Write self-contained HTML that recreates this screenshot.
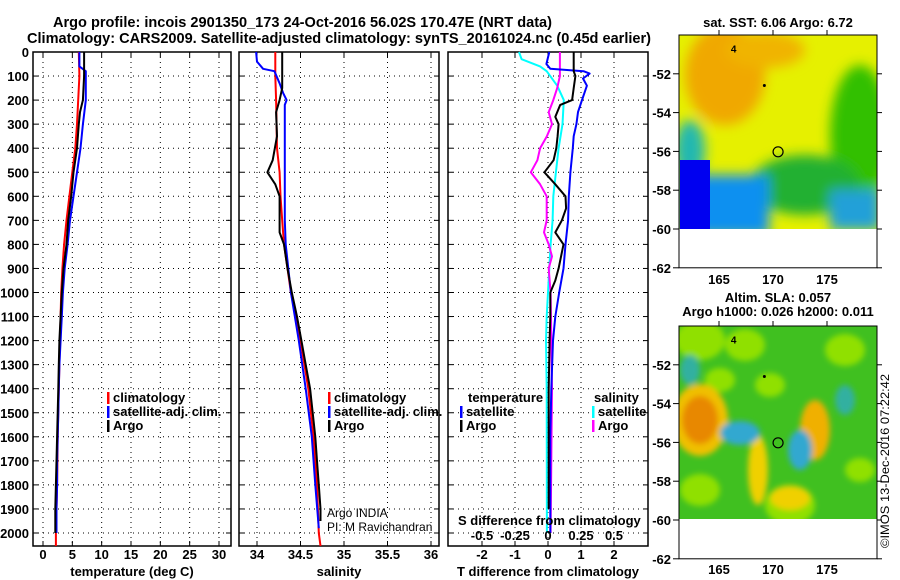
<!DOCTYPE html>
<html><head><meta charset="utf-8"><style>
html,body{margin:0;padding:0;background:#fff;}
svg{display:block;font-family:"Liberation Sans",sans-serif;}
.t{font-weight:bold;font-size:13px;fill:#000;}
</style></head><body>
<svg id="c" width="900" height="580" viewBox="0 0 900 580" xmlns="http://www.w3.org/2000/svg">
<defs>
<filter id="bl" x="-50%" y="-50%" width="200%" height="200%"><feGaussianBlur stdDeviation="6"/></filter>
<filter id="bl2" x="-50%" y="-50%" width="200%" height="200%"><feGaussianBlur stdDeviation="3"/></filter>
<clipPath id="cm1"><rect x="679" y="35" width="198" height="194"/></clipPath>
<clipPath id="cm2"><rect x="679" y="326" width="198" height="193"/></clipPath>
</defs>
<text x="53" y="27" textLength="499" lengthAdjust="spacingAndGlyphs" style="font-size:15px;font-weight:bold">Argo profile: incois 2901350_173 24-Oct-2016 56.02S 170.47E (NRT data)</text>
<text x="27" y="43" textLength="624" lengthAdjust="spacingAndGlyphs" style="font-size:15px;font-weight:bold">Climatology: CARS2009. Satellite-adjusted climatology: synTS_20161024.nc (0.45d earlier)</text>
<g id="plots"></g>
<g id="maps"></g>
<text transform="translate(889,548) rotate(-90)" textLength="174" lengthAdjust="spacingAndGlyphs" style="font-size:12px">©IMOS 13-Dec-2016 07:22:42</text>
</svg>
<script>
// ---------- data ----------
const depthTicks = [0,100,200,300,400,500,600,700,800,900,1000,1100,1200,1300,1400,1500,1600,1700,1800,1900,2000];
const tempTicks = [0,5,10,15,20,25,30];
const salTicks = [34,34.5,35,35.5,36];
const tdiffTicks = [-2,-1,0,1,2];
const sdiffTickLabels = ["-0.5","-0.25","0","0.25","0.5"];
const sdiffTicks = [-0.5,-0.25,0,0.25,0.5];

const tArgoDepth = [0,100,200,250,300,400,500,600,700,800,900,1000,1100,1200,1300,1400,1500,1600,1700,1800,1900,2000];
const tArgo      = [7.0,7.0,6.8,6.3,6.1,5.8,5.2,4.8,4.3,4.0,3.5,3.2,3.0,2.8,2.7,2.6,2.5,2.4,2.3,2.2,2.1,2.1];
const tClimDepth = [0,100,200,300,400,500,600,700,800,900,1000,1200,1400,1600,1800,2000,2054];
const tClim      = [6.1,6.2,6.0,5.8,5.5,5.0,4.5,4.0,3.6,3.3,3.1,2.9,2.7,2.5,2.4,2.2,2.2];
const tSatDepth  = [0,60,80,200,300,400,500,600,700,800,900,1000,1100,1200,1300,1400,1500,1600,1700,1800,1900,2000];
const tSat       = [6.2,6.2,7.3,7.3,6.8,6.4,5.8,5.2,4.6,4.2,3.7,3.4,3.2,3.0,2.8,2.7,2.6,2.5,2.4,2.4,2.3,2.3];

const sArgoDepth = [0,150,200,250,350,450,500,550,600,750,800,900,1000,1100,1200,1300,1400,1500,1600,1700,1800,1900,1950];
const sArgo      = [34.29,34.29,34.26,34.22,34.23,34.18,34.12,34.21,34.26,34.26,34.31,34.35,34.40,34.46,34.51,34.56,34.61,34.64,34.67,34.69,34.71,34.73,34.73];
const sClimDepth = [0,100,200,400,500,600,700,800,900,1000,1200,1400,1600,1800,2000,2054];
const sClim      = [34.21,34.21,34.22,34.23,34.26,34.27,34.29,34.31,34.35,34.39,34.50,34.59,34.65,34.69,34.71,34.73];
const sSatDepth  = [0,40,70,80,130,170,200,220,700,800,900,1000,1200,1400,1600,1800,1980];
const sSat       = [33.99,34.0,34.07,34.20,34.26,34.30,34.34,34.32,34.32,34.33,34.36,34.39,34.48,34.56,34.63,34.67,34.71];

const dTSatDepth = [0,50,70,80,90,110,140,200,250,300,350,400,500,600,700,800,900,1000,1100,1200,1400,1600,2000];
const dTSat      = [0.04,-0.05,0.07,1.08,1.26,1.06,1.18,1.03,0.91,0.86,0.78,0.75,0.68,0.63,0.61,0.53,0.47,0.34,0.22,0.15,0.10,0.07,0.07];
const dTArgoDepth= [0,80,100,150,200,220,270,300,350,400,450,500,550,600,650,700,750,800,900,950,1000,1100,1200,1400,1600,1900];
const dTArgo     = [0.78,0.78,0.83,0.78,0.73,0.37,0.22,0.32,0.29,0.25,0.17,-0.11,0.22,0.53,0.55,0.42,0.22,0.47,0.32,0.22,0.07,0.07,0.05,0.02,0.02,0.02];
const dSSatDepth = [0,30,60,80,140,200,300,400,500,600,700,800,900,1000,1100,1200,1400,2000];
const dSSat      = [-0.22,-0.20,-0.06,-0.01,0.07,0.12,0.11,0.08,0.06,0.04,0.035,0.02,0.01,0.0,-0.01,-0.015,-0.01,-0.008];
const dSArgoDepth= [0,100,150,200,250,300,350,400,450,500,550,600,700,750,800,850,900,1000,1400,2000];
const dSArgo     = [0.09,0.09,0.07,0.04,0.005,0.03,-0.008,-0.06,-0.08,-0.13,-0.06,-0.01,-0.01,-0.03,0.005,0.03,0.005,0.02,0.03,0.02];

// ---------- helpers ----------
const NS="http://www.w3.org/2000/svg";
const plots=document.getElementById('plots');
function mk(tag,attrs,parent){const e=document.createElementNS(NS,tag);for(const k in attrs)e.setAttribute(k,attrs[k]);(parent||plots).appendChild(e);return e;}
const Y0=52, YB=546;
const yD = d => Y0 + d*(533-52)/2000;
const xT = v => 43 + v*(219-43)/30;
const xS = v => 257 + (v-34)*(431-257)/2;
const xDT = v => 548 + v*33;
const xDS = v => 548 + v*132;

function panel(x0,x1,name,xticks,xfn,labels,labelY,xlabel,showY){
  const g=mk('g',{});
  
  
  depthTicks.forEach(d=>{
    const l=mk('line',{x1:x0,x2:x1,y1:yD(d),y2:yD(d),stroke:'#000','stroke-width':1,'stroke-dasharray':'1,4'},g);
    
    
    mk('line',{x1:x0,x2:x0+5,y1:yD(d),y2:yD(d),stroke:'#000'},g);
    mk('line',{x1:x1-5,x2:x1,y1:yD(d),y2:yD(d),stroke:'#000'},g);
    if(showY){
      const t=mk('text',{x:29,y:yD(d)+5,'text-anchor':'end',class:'t'},g);
      t.textContent=d;
      
      
    }
  });
  xticks.forEach((v,i)=>{
    const x=xfn(v);
    const l=mk('line',{x1:x,x2:x,y1:Y0,y2:YB,stroke:'#000','stroke-width':1,'stroke-dasharray':'1,4'},g);
    
    
    mk('line',{x1:x,x2:x,y1:Y0,y2:Y0+5,stroke:'#000'},g);
    mk('line',{x1:x,x2:x,y1:YB-5,y2:YB,stroke:'#000'},g);
    const t=mk('text',{x:x,y:labelY,'text-anchor':'middle',class:'t'},g);
    t.textContent=labels[i];
    
    
  });
  const r=mk('rect',{x:x0,y:Y0,width:x1-x0,height:YB-Y0,fill:'none',stroke:'#000','stroke-width':1.5},g);
  
  
  const xl=mk('text',{x:(x0+x1)/2,y:576,'text-anchor':'middle',class:'t'},g);
  xl.textContent=xlabel;
  
  
}
function series(depths,vals,xfn,color,name){
  const pts=depths.map((d,i)=>xfn(vals[i]).toFixed(1)+','+yD(d).toFixed(1)).join(' ');
  const p=mk('polyline',{points:pts,fill:'none',stroke:color,'stroke-width':2,'stroke-linejoin':'round'});
  
  
}
function legend(x,y,color,label,name){
  const g=mk('g',{});
  
  
  mk('rect',{x:x,y:y-10,width:2.5,height:12,fill:color},g);
  const t=mk('text',{x:x+6,y:y,class:'t'},g);
  t.textContent=label;
}
function txt(x,y,s,name,extra){
  const t=mk('text',Object.assign({x:x,y:y,class:'t'},extra||{}));
  t.textContent=s;
  
  
  return t;
}

panel(33,231,'temperature-panel',tempTicks,xT,tempTicks.map(String),559,'temperature (deg C)',true);
series(tClimDepth,tClim,xT,'#f00','temp-climatology-line');
series(tSatDepth,tSat,xT,'#00f','temp-satellite-line');
series(tArgoDepth,tArgo,xT,'#000','temp-argo-line');
legend(107,402,'#f00','climatology','legend-climatology');
legend(107,416,'#00f','satellite-adj. clim.','legend-satellite');
legend(107,430,'#000','Argo','legend-argo');

panel(239,439,'salinity-panel',salTicks,xS,['34','34.5','35','35.5','36'],559,'salinity',false);
series(sClimDepth,sClim,xS,'#f00','sal-climatology-line');
series(sSatDepth,sSat,xS,'#00f','sal-satellite-line');
series(sArgoDepth,sArgo,xS,'#000','sal-argo-line');
legend(328,402,'#f00','climatology','legend-climatology-sal');
legend(328,416,'#00f','satellite-adj. clim.','legend-satellite-sal');
legend(328,430,'#000','Argo','legend-argo-sal');
txt(327,517,'Argo INDIA','credit-line-1',{style:'font-weight:normal;font-size:12px'});
txt(327,531,'PI: M Ravichandran','credit-line-2',{style:'font-weight:normal;font-size:12px'});

panel(448,648,'difference-panel',tdiffTicks,xDT,tdiffTicks.map(String),559,'T difference from climatology',false);
series(dSSatDepth,dSSat,xDS,'#0ff','sal-diff-satellite-line');
series(dSArgoDepth,dSArgo,xDS,'#f0f','sal-diff-argo-line');
series(dTSatDepth,dTSat,xDT,'#00f','temp-diff-satellite-line');
series(dTArgoDepth,dTArgo,xDT,'#000','temp-diff-argo-line');
txt(468,402,'temperature','legend-temperature-heading');
legend(460,416,'#00f','satellite','legend-t-satellite');
legend(460,430,'#000','Argo','legend-t-argo');
txt(594,402,'salinity','legend-salinity-heading');
legend(592,416,'#0ff','satellite','legend-s-satellite');
legend(592,430,'#f0f','Argo','legend-s-argo');
txt(458,525,'S difference from climatology','s-diff-axis-title');
sdiffTicks.forEach((v,i)=>{
  txt(xDS(v),540,sdiffTickLabels[i],'s-diff-tick-label',{'text-anchor':'middle'});
});

// ---------- maps ----------
const maps=document.getElementById('maps');
function m(tag,attrs,parent){const e=document.createElementNS(NS,tag);for(const k in attrs)e.setAttribute(k,attrs[k]);(parent||maps).appendChild(e);return e;}
const latTicks=[-52,-54,-56,-58,-60,-62];
const lonTicks=[165,170,175];
const xLon = lon => 719 + (lon-165)*10.8;
function mapFrame(top,name,ticksY,colorFn){
  const g=m('g',{});
  
  
  const yLat = lat => top + (-50-lat)*19.4;
  colorFn(g,yLat);
  m('rect',{x:679,y:top,width:198,height:yLat(-62)-top,fill:'none',stroke:'#000','stroke-width':1},g);
  latTicks.forEach(l=>{
    const y=yLat(l);
    m('line',{x1:679,x2:673,y1:y,y2:y,stroke:'#000'},g);
    m('line',{x1:877,x2:882,y1:y,y2:y,stroke:'#000'},g);
    const t=m('text',{x:671,y:y+5,'text-anchor':'end',class:'t'},g);
    t.textContent=l;
    
    
  });
  lonTicks.forEach(l=>{
    const x=xLon(l);
    m('line',{x1:x,x2:x,y1:top,y2:top-5,stroke:'#000'},g);
    const t=m('text',{x:x,y:ticksY,'text-anchor':'middle',class:'t'},g);
    t.textContent=l;
    
    
  });
  const c=m('circle',{cx:xLon(170.47),cy:yLat(-56.02),r:5,fill:'none',stroke:'#000','stroke-width':1.2},g);
  
  
  m('circle',{cx:xLon(169.2),cy:yLat(-52.6),r:1.5,fill:'#000'},g);
  m('text',{x:xLon(166.1),y:yLat(-50.9),style:'font-size:10px;font-weight:bold'},g).textContent='4';
  return yLat;
}
mapFrame(35,'sst-map',284,(g,yLat)=>{
  const cg=m('g',{'clip-path':'url(#cm1)'},g);
  m('rect',{x:679,y:35,width:198,height:194,fill:'#e6f000'},cg);
  const b=m('g',{filter:'url(#bl)'},cg);
  m('ellipse',{cx:725,cy:75,rx:40,ry:50,fill:'#f0a800'},b);
  m('ellipse',{cx:765,cy:50,rx:40,ry:18,fill:'#f0b400'},b);
  m('ellipse',{cx:860,cy:135,rx:30,ry:70,fill:'#30c000'},b);
  m('ellipse',{cx:805,cy:185,rx:55,ry:30,fill:'#20b030'},b);
  m('ellipse',{cx:690,cy:150,rx:15,ry:30,fill:'#20b8b0'},b);
  m('rect',{x:679,y:175,width:90,height:60,fill:'#1090f0'},b);
  m('rect',{x:830,y:190,width:50,height:40,fill:'#20a0d8'},b);
  m('rect',{x:680,y:160,width:30,height:69,fill:'#0000f0'},cg);
});
m('text',{x:778,y:27,'text-anchor':'middle',class:'t'}).textContent='sat. SST: 6.06 Argo: 6.72';
mapFrame(326,'sla-map',574,(g,yLat)=>{
  const cg=m('g',{'clip-path':'url(#cm2)'},g);
  m('rect',{x:679,y:326,width:198,height:193,fill:'#40c020'},cg);
  const b=m('g',{filter:'url(#bl2)'},cg);
  [[700,340,25],[745,345,20],[770,385,15],[845,350,20],[720,380,15],[860,470,15],[700,490,20],[790,505,25]].forEach(p=>m('ellipse',{cx:p[0],cy:p[1],rx:p[2],ry:p[2]*0.8,fill:'#90e000'},b));
  m('ellipse',{cx:700,cy:420,rx:28,ry:36,fill:'#f0c000'},b);
  m('ellipse',{cx:700,cy:420,rx:18,ry:24,fill:'#e88800'},b);
  m('ellipse',{cx:815,cy:430,rx:15,ry:30,fill:'#f0b000'},b);
  m('ellipse',{cx:758,cy:470,rx:10,ry:35,fill:'#f0d000'},b);
  m('ellipse',{cx:790,cy:498,rx:20,ry:12,fill:'#f0d000'},b);
  m('ellipse',{cx:740,cy:433,rx:20,ry:12,fill:'#30a8d0'},b);
  m('ellipse',{cx:800,cy:450,rx:12,ry:20,fill:'#30a8d0'},b);
  m('ellipse',{cx:845,cy:400,rx:10,ry:15,fill:'#30b0a0'},b);
  m('ellipse',{cx:690,cy:370,rx:10,ry:15,fill:'#30b0a0'},b);
});
m('text',{x:778,y:302,'text-anchor':'middle',class:'t'}).textContent='Altim. SLA: 0.057';
m('text',{x:778,y:316,'text-anchor':'middle',class:'t'}).textContent='Argo h1000: 0.026 h2000: 0.011';
</script>
</body></html>
